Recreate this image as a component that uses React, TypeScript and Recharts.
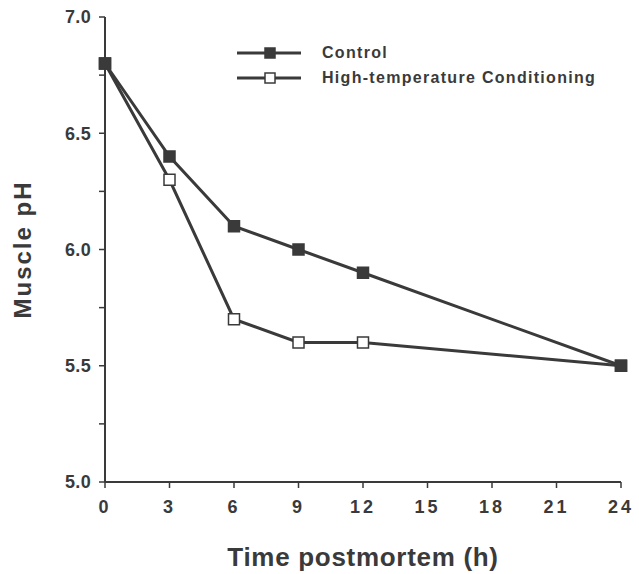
import { LineChart, Line, XAxis, YAxis, Legend, Label } from 'recharts';

// hours postmortem
const hours = [0, 3, 6, 9, 12, 24];
const controlPH = [6.8, 6.4, 6.1, 6.0, 5.9, 5.5];
const highTempPH = [6.8, 6.3, 5.7, 5.6, 5.6, 5.5];

const xTicks = [0, 3, 6, 9, 12, 15, 18, 21, 24];
const yTicks = [5.0, 5.25, 5.5, 5.75, 6.0, 6.25, 6.5, 6.75, 7.0];

const INK = '#3a3a3a';
const FONT = '"Liberation Sans", Arial, sans-serif';

const data = hours.map((h, i) => ({ h, control: controlPH[i], htc: highTempPH[i] }));

const squareDot = (filled: boolean) => (props: any) => {
  const { cx, cy, index } = props;
  if (cx == null || cy == null) return <g key={index} />;
  return (
    <rect
      key={index}
      x={cx - 5.5}
      y={cy - 5.5}
      width={11}
      height={11}
      fill={filled ? INK : '#fff'}
      stroke={INK}
      strokeWidth={1.5}
    />
  );
};

const renderLegend = (props: any) => {
  // control is drawn last (on top) but listed first
  const payload = [...(props.payload || [])].sort((a: any, b: any) =>
    a.dataKey === 'control' ? -1 : b.dataKey === 'control' ? 1 : 0
  );
  return (
    <div style={{ fontFamily: FONT }}>
      {payload.map((entry: any) => {
        const filled = entry.dataKey === 'control';
        return (
          <div key={entry.value} style={{ display: 'flex', alignItems: 'center', height: 25 }}>
            <svg width={66} height={14}>
              <line x1={1} y1={7} x2={65} y2={7} stroke={INK} strokeWidth={3} />
              <rect x={29} y={2} width={10} height={10} fill={filled ? INK : '#fff'} stroke={INK} strokeWidth={1.5} />
            </svg>
            <span style={{ marginLeft: 20, fontSize: 16, fontWeight: 700, letterSpacing: 1.3, color: INK }}>
              {entry.value}
            </span>
          </div>
        );
      })}
    </div>
  );
};

export default function App() {
  return (
    <div style={{ position: 'absolute', left: 0, top: 0, background: '#fff' }}>
      <LineChart width={639} height={574} data={data} margin={{ top: 17, right: 18, bottom: 0, left: 0 }}>
        <XAxis
          type="number"
          dataKey="h"
          domain={[0, 24]}
          ticks={xTicks}
          height={92}
          stroke={INK}
          strokeWidth={2}
          tickSize={6}
          tickMargin={12}
          tick={{ fill: INK, fontSize: 18, fontWeight: 700, fontFamily: FONT, letterSpacing: 3 }}
          tickLine={{ stroke: INK, strokeWidth: 1.5 }}
        >
          <Label
            value="Time postmortem (h)"
            position="insideBottom"
            offset={8}
            style={{ fill: INK, fontSize: 26, fontWeight: 700, fontFamily: FONT, letterSpacing: 0.7 }}
          />
        </XAxis>
        <YAxis
          type="number"
          domain={[5, 7]}
          ticks={yTicks}
          width={105}
          stroke={INK}
          strokeWidth={2}
          tickSize={6}
          tickMargin={8}
          tickFormatter={(v: number) => (Math.round(v * 100) % 50 === 0 ? v.toFixed(1) : '')}
          tick={{ fill: INK, fontSize: 18, fontWeight: 700, fontFamily: FONT, letterSpacing: 0.3 }}
          tickLine={{ stroke: INK, strokeWidth: 1.5 }}
        >
          <Label
            value="Muscle pH"
            angle={-90}
            position="insideLeft"
            offset={22}
            style={{ fill: INK, fontSize: 24, fontWeight: 700, fontFamily: FONT, letterSpacing: 2, textAnchor: 'middle' }}
          />
        </YAxis>
        <Legend
          verticalAlign="middle"
          align="center"
          layout="vertical"
          content={renderLegend}
          wrapperStyle={{ top: 40, left: 236, width: 390 }}
        />
        <Line
          type="linear"
          dataKey="htc"
          name="High-temperature Conditioning"
          stroke={INK}
          strokeWidth={3}
          dot={squareDot(false)}
          isAnimationActive={false}
        />
        <Line
          type="linear"
          dataKey="control"
          name="Control"
          stroke={INK}
          strokeWidth={3}
          dot={squareDot(true)}
          isAnimationActive={false}
        />
      </LineChart>
    </div>
  );
}
